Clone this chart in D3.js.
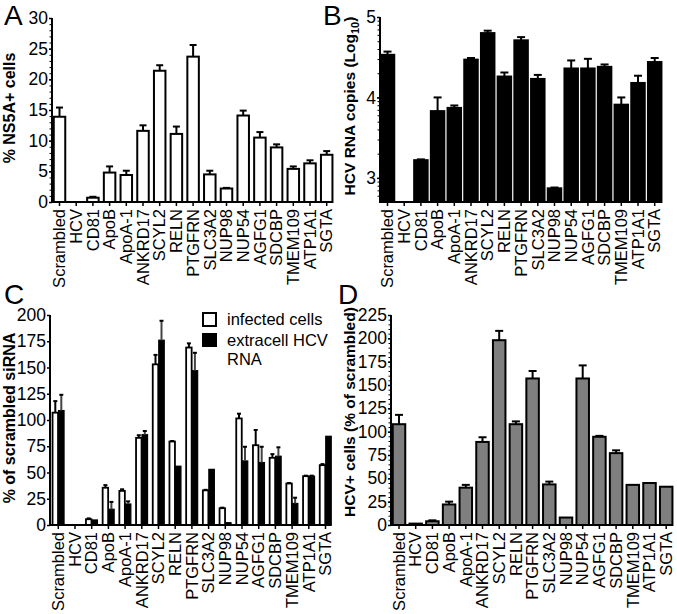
<!DOCTYPE html>
<html><head><meta charset="utf-8">
<script src="https://cdn.jsdelivr.net/npm/d3@7/dist/d3.min.js"></script>
<style>
html,body{margin:0;padding:0;background:#fff;}
svg{display:block;font-family:"Liberation Sans",Arial,Helvetica,sans-serif;}
</style></head>
<body>
<svg id="chart" width="677" height="614"></svg>
<script>
const categories = ["Scrambled","HCV","CD81","ApoB","ApoA-1","ANKRD17","SCYL2","RELN","PTGFRN","SLC3A2","NUP98","NUP54","AGFG1","SDCBP","TMEM109","ATP1A1","SGTA"];

// Panel A: % NS5A+ cells (value, upper end of error bar)
const ns5aValues = [13.9, 0, 0.7, 4.8, 4.4, 11.6, 21.4, 11.1, 23.7, 4.5, 2.2, 14.1, 10.5, 8.9, 5.4, 6.3, 7.7];
const ns5aErrTop = [15.4, null, 0.85, 5.8, 5.1, 12.5, 22.3, 12.3, 25.6, 5.1, 2.3, 14.9, 11.4, 9.4, 5.8, 6.8, 8.3];

// Panel B: HCV RNA copies (log10)
const rnaValues = [4.53, null, 3.22, 3.83, 3.87, 4.47, 4.80, 4.26, 4.71, 4.23, 2.87, 4.36, 4.36, 4.38, 3.91, 4.18, 4.44];
const rnaErrTop = [4.57, null, 3.23, 4.00, 3.90, 4.49, 4.83, 4.31, 4.75, 4.28, 2.88, 4.46, 4.48, 4.41, 4.00, 4.27, 4.49];

// Panel C: % of scrambled siRNA
const infectedValues = [107, 0, 5.5, 35.5, 32.5, 83, 153, 79.5, 169, 33, 16, 101.5, 76, 64, 39.5, 46.5, 57];
const infectedErrTop = [118, null, 6.3, 38, 34, 85.5, 162, 80, 173, 33.5, 16.5, 106, 90.5, 67.5, 40, 47, 58];
const extracellValues = [109, 0, 4.8, 15, 20, 86, 176, 56, 147, 53, 2.2, 61, 59.5, 65.5, 20.5, 46.5, 84.5];
const extracellErrTop = [124, null, 5, 22, 22.5, 89.5, 194.5, null, 164, null, null, 74.5, 74.5, 74, 26, 47, null];

// Panel D: HCV+ cells (% of scrambled)
const hcvPosValues = [108, 1.5, 4, 22, 40, 89, 198, 108, 157, 43.5, 8, 157, 94.5, 77, 43, 45, 41];
const hcvPosErrTop = [118, 2, 5, 25, 43, 94, 208, 111, 165, 46.5, 8.5, 171, 95.5, 80, 43, 45.5, 41.5];

const ticksA = [0, 5, 10, 15, 20, 25, 30];
const ticksB = [3, 4, 5];
const ticksC = [0, 25, 50, 75, 100, 125, 150, 175, 200];
const ticksD = [0, 25, 50, 75, 100, 125, 150, 175, 200, 225];
const legendLabels = [["infected cells"], ["extracell HCV", "RNA"]];

const svg = d3.select("#chart");
const STEP = 16.7;

function xScaleFor(x0) {
  return d3.scalePoint().domain(categories).range([x0 + 7.5, x0 + 7.5 + STEP * 16]);
}

function drawXAxis(g, x, x0, yBase) {
  const last = x(categories[categories.length - 1]);
  g.append("line").attr("x1", x0).attr("x2", last + 6).attr("y1", yBase).attr("y2", yBase)
    .attr("stroke", "#000").attr("stroke-width", 2);
  categories.forEach(c => {
    g.append("line").attr("x1", x(c)).attr("x2", x(c)).attr("y1", yBase).attr("y2", yBase + 4)
      .attr("stroke", "#000").attr("stroke-width", 1.5);
    g.append("text").attr("transform", `translate(${x(c)},${yBase + 7}) rotate(-90)`)
      .attr("text-anchor", "end").attr("dy", "0.35em")
      .attr("font-size", 16.5).text(c);
  });
}

function drawYAxis(g, y, x0, ticks, minorTicks, fmt) {
  const ax = d3.axisLeft(y).tickValues(ticks).tickSize(3).tickPadding(1).tickFormat(fmt || d3.format("d"));
  const ga = g.append("g").attr("transform", `translate(${x0},0)`).call(ax);
  ga.select(".domain").attr("stroke-width", 2).attr("d", `M0,${y.range()[0] + 1}V${y.range()[1]}`);
  ga.selectAll(".tick line").attr("stroke-width", 1.5);
  ga.selectAll(".tick text").attr("font-size", 17.5).attr("font-family", "Liberation Sans, Arial, sans-serif").attr("fill", "#000");
  if (minorTicks) {
    const am = d3.axisLeft(y).tickValues(minorTicks).tickSize(2.5).tickFormat("");
    const gm = g.append("g").attr("transform", `translate(${x0},0)`).call(am);
    gm.select(".domain").remove();
    gm.selectAll(".tick line").attr("stroke-width", 1);
  }
}

function drawBars(g, x, y, values, errs, opts) {
  const w = opts.width, off = opts.offset || 0;
  const base = y.range()[0];
  categories.forEach((c, i) => {
    const v = values[i];
    if (v === null || v === undefined) return;
    const cx = x(c) + off;
    const top = y(v);
    if (base - top > 0.5) {
      g.append("rect").attr("x", cx - w / 2).attr("y", top).attr("width", w).attr("height", base - top)
        .attr("fill", opts.fill).attr("stroke", "#000").attr("stroke-width", opts.stroke || 2);
    }
    const e = errs[i];
    if (e !== null && e !== undefined && y(e) < top - 0.5) {
      const cap = opts.cap || w / 2;
      g.append("line").attr("x1", cx).attr("x2", cx).attr("y1", top).attr("y2", y(e))
        .attr("stroke", opts.errColor || "#000").attr("stroke-width", 2);
      g.append("line").attr("x1", cx - cap / 2).attr("x2", cx + cap / 2).attr("y1", y(e)).attr("y2", y(e))
        .attr("stroke", "#000").attr("stroke-width", 2);
    }
  });
}

function yLabel(g, x, y, text, size) {
  return g.append("text").attr("transform", `translate(${x},${y}) rotate(-90)`)
    .attr("text-anchor", "middle").attr("font-weight", "bold").attr("font-size", size || 16).text(text);
}

function panelLetter(x, y, t) {
  svg.append("text").attr("x", x).attr("y", y).attr("font-size", 28).text(t);
}

// ---------- Panel A ----------
{
  const g = svg.append("g");
  const x0 = 52;
  const x = xScaleFor(x0);
  const y = d3.scaleLinear().domain([0, 30]).range([202, 18]);
  drawBars(g, x, y, ns5aValues, ns5aErrTop, { width: 11.5, fill: "#fff", cap: 7 });
  drawYAxis(g, y, x0, ticksA, d3.range(0, 31, 1));
  drawXAxis(g, x, x0, 202);
  yLabel(g, 15, 108, "% NS5A+ cells");
  panelLetter(4, 25, "A");
}

// ---------- Panel B ----------
{
  const g = svg.append("g");
  const x0 = 380;
  const x = xScaleFor(x0);
  const y = d3.scaleLinear().domain([2.7, 5]).range([202, 17]);
  drawBars(g, x, y, rnaValues, rnaErrTop, { width: 13.5, fill: "#000", cap: 8 });
  const minor = [];
  [2, 3, 4].forEach(p => d3.range(1, 10).forEach(k => { const v = p + Math.log10(k); if (v >= 2.7 && v <= 5) minor.push(v); }));
  minor.push(5);
  drawYAxis(g, y, x0, ticksB, minor);
  drawXAxis(g, x, x0, 202);
  const t = g.append("text").attr("transform", `translate(355,106) rotate(-90)`)
    .attr("text-anchor", "middle").attr("font-weight", "bold").attr("font-size", 15.5);
  t.append("tspan").text("HCV RNA copies (Log");
  t.append("tspan").attr("font-size", 11).attr("dy", 4).text("10");
  t.append("tspan").attr("dy", -4).text(")");
  panelLetter(323, 25, "B");
}

// ---------- Panel C ----------
{
  const g = svg.append("g");
  const x0 = 50;
  const x = xScaleFor(x0 + 0.8);
  const y = d3.scaleLinear().domain([0, 200]).range([525, 315]);
  drawBars(g, x, y, infectedValues, infectedErrTop, { width: 5.5, offset: -3, fill: "#fff", cap: 4, stroke: 1.8 });
  drawBars(g, x, y, extracellValues, extracellErrTop, { width: 5.5, offset: 3, fill: "#000", cap: 4, stroke: 1.2, errColor: "#444" });
  drawYAxis(g, y, x0, ticksC, null);
  drawXAxis(g, x, x0, 525);
  yLabel(g, 15, 418, "% of scrambled siRNA");
  // legend
  const lg = g.append("g");
  lg.append("rect").attr("x", 203).attr("y", 313).attr("width", 13).attr("height", 13)
    .attr("fill", "#fff").attr("stroke", "#000").attr("stroke-width", 2);
  lg.append("rect").attr("x", 202).attr("y", 333).attr("width", 15).attr("height", 14).attr("fill", "#000");
  lg.append("text").attr("x", 227).attr("y", 325).attr("font-size", 16.5).text(legendLabels[0][0]);
  lg.append("text").attr("x", 227).attr("y", 346).attr("font-size", 16.5).text(legendLabels[1][0]);
  lg.append("text").attr("x", 227).attr("y", 365).attr("font-size", 16.5).text(legendLabels[1][1]);
  panelLetter(4, 304, "C");
}

// ---------- Panel D ----------
{
  const g = svg.append("g");
  const x0 = 391;
  const x = xScaleFor(x0 + 0.5);
  const y = d3.scaleLinear().domain([0, 225]).range([525, 315]);
  drawBars(g, x, y, hcvPosValues, hcvPosErrTop, { width: 12.5, fill: "#7f7f7f", cap: 8 });
  drawYAxis(g, y, x0, ticksD, d3.range(0, 226, 5));
  drawXAxis(g, x, x0, 525);
  yLabel(g, 355, 412, "HCV+ cells (% of scrambled)", 15.5);
  panelLetter(338, 304, "D");
}
</script>
</body></html>
